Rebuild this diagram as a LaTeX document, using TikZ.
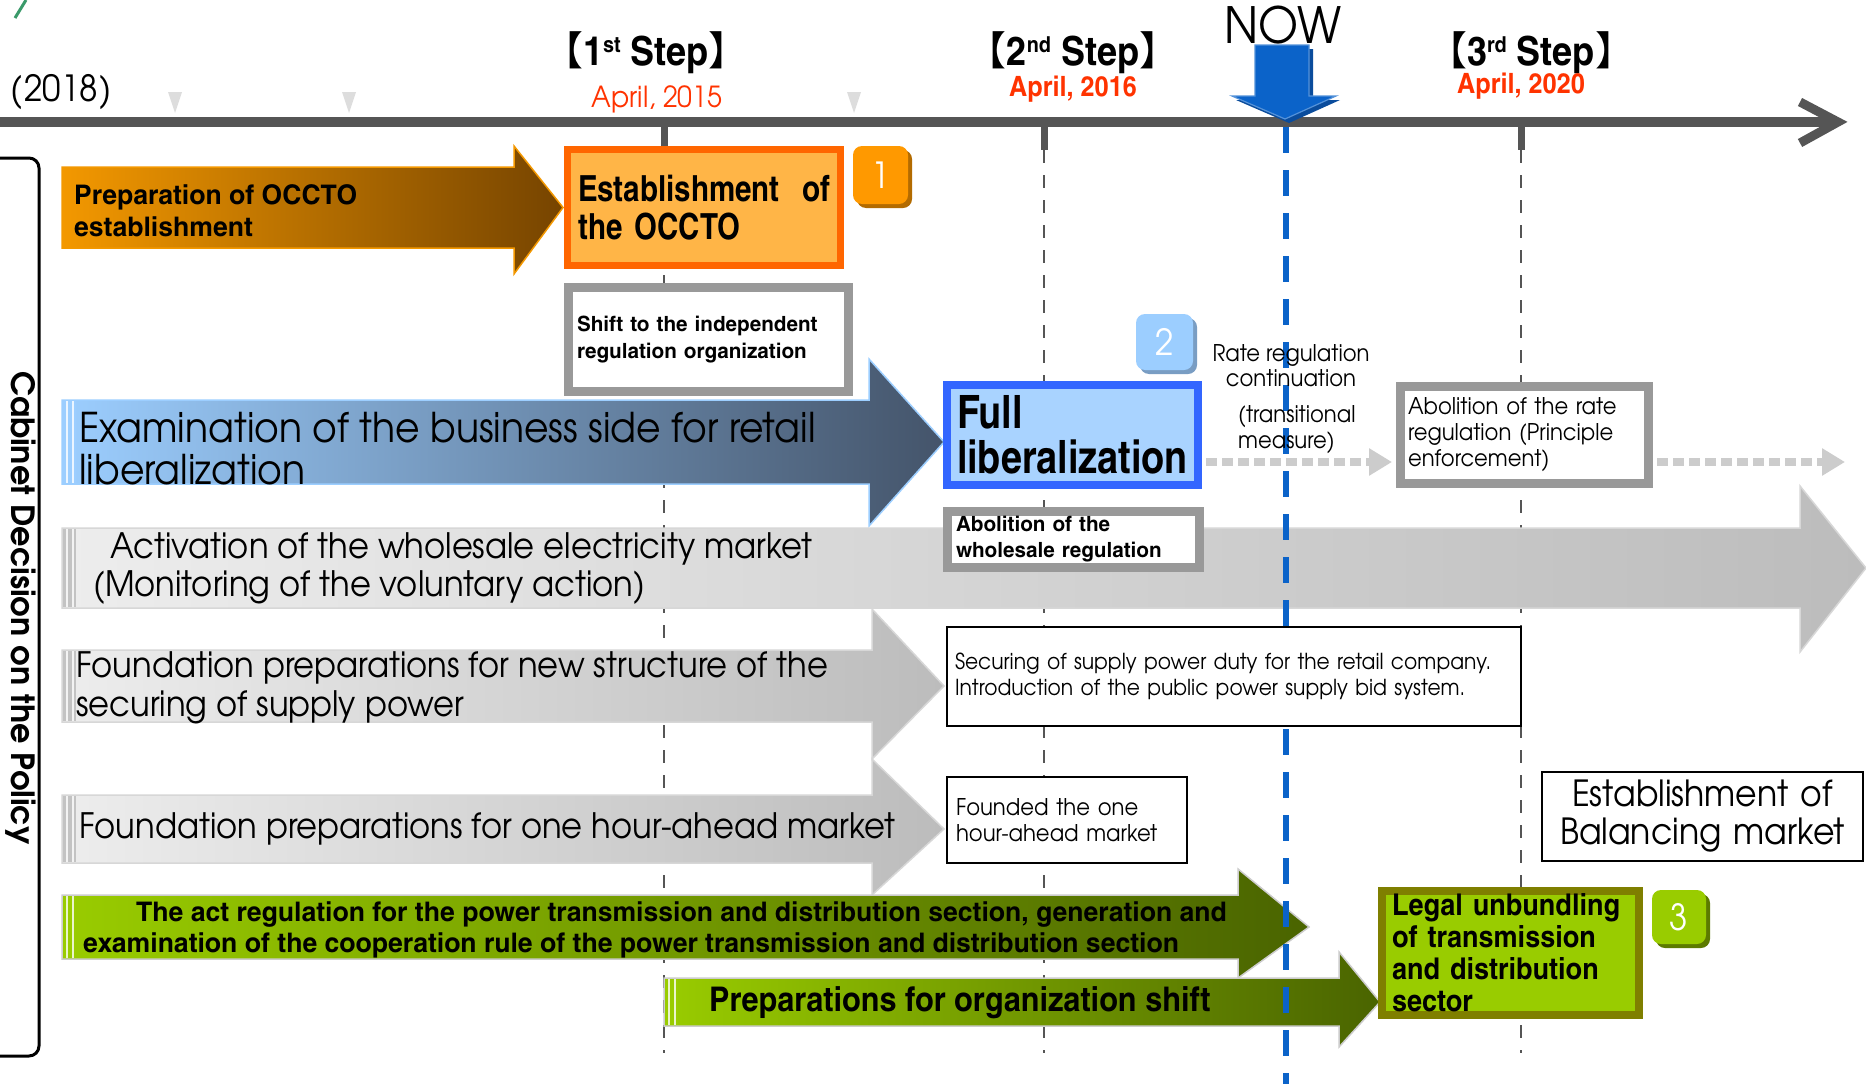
\documentclass[tikz,border=0pt]{standalone}
\usepackage{fontspec}
\usetikzlibrary{arrows.meta,calc,shadows}
\newfontfamily\gth{texgyreadventor-regular.otf}[FakeStretch=0.92]
\newfontfamily\gthb{texgyreadventor-bold.otf}[FakeStretch=1.0]
\newfontfamily\cnb{texgyreheroscn-bold.otf}
\newfontfamily\cnbm{texgyreheroscn-bold.otf}[FakeStretch=1.1]
\newfontfamily\cnbs{texgyreheroscn-bold.otf}[FakeStretch=1.2]
\newfontfamily\cjk{Noto Sans CJK JP}
\newcommand\fsz[2]{\fontsize{#1pt}{#2pt}\selectfont}
\definecolor{tl}{HTML}{555555}
\definecolor{aprred}{HTML}{FF3300}
\definecolor{nowblue}{HTML}{0B63C9}
\definecolor{nowdark}{HTML}{0A4C9C}
\definecolor{orA}{HTML}{F39800}
\definecolor{orB}{HTML}{764400}
\definecolor{occfill}{HTML}{FFB547}
\definecolor{occdraw}{HTML}{FF6600}
\definecolor{blA}{HTML}{9CCEFF}
\definecolor{blB}{HTML}{44546A}
\definecolor{flfill}{HTML}{A9D3FF}
\definecolor{fldraw}{HTML}{3366FF}
\definecolor{grA}{HTML}{EDEDED}
\definecolor{grB}{HTML}{BCBCBC}
\definecolor{boxgray}{HTML}{999999}
\definecolor{gnA}{HTML}{99CC00}
\definecolor{gnB}{HTML}{4A6400}
\definecolor{olive3}{HTML}{7F7F00}
\definecolor{dotgray}{HTML}{CCCCCC}
\definecolor{tickgray}{HTML}{DDDDDD}
\definecolor{badgeor}{HTML}{FF9900}
\definecolor{badgeorsh}{HTML}{B36B00}
\newcommand\fatarrow[8]{%
  \path[#1] (#2,#5) -- (#3,#5) -- (#3,#7) -- (#4,{(#5+#6)/2}) -- (#3,#8) -- (#3,#6) -- (#2,#6) -- cycle;
}
% left band with two thin light lines: colour, xl, yt, yb
\newcommand\stripes[4]{%
  \fill[#1] (#2+1,#3+1) rectangle (#2+14,#4-1);
  \draw[white, opacity=0.8, line width=1.5] (#2+5,#3+1) -- (#2+5,#4-1) (#2+11,#3+1) -- (#2+11,#4-1);
}
\tikzset{
  txt/.style={inner sep=0pt, align=left, anchor=west},
  wbox/.style={draw=boxgray, fill=white, line width=9pt, inner ysep=0pt, align=left},
  kbox/.style={draw=black, fill=white, line width=2.5pt, inner ysep=0pt, align=left},
  badge/.style={rounded corners=9pt, text=white, font=\gth\fsz{36}{36}, inner sep=0pt},
  dotarrow/.style={dotgray, line width=8pt, dash pattern=on 11pt off 5pt, -{Triangle[length=23pt,width=26pt]}},
  steph/.style={inner sep=0pt, font=\cnbm\fsz{40}{40}},
}
\begin{document}
\begin{tikzpicture}[x=1pt,y=-1pt]
\useasboundingbox (0,0) rectangle (1866,1084);
\fill[white] (0,0) rectangle (1866,1084);

% small fragment top-left
\draw[color={rgb,255:red,58;green,154;blue,106}, line width=3pt] (15,18) -- (26,0);

% dashed step lines
\foreach \xx in {664,1044,1521}{
  \draw[tl, line width=2pt, dash pattern=on 13pt off 12pt] (\xx,150) -- (\xx,1053);
}

% timeline
\draw[tl, line width=10pt] (0,122) -- (1836,122);
\draw[tl, line width=9pt, miter limit=10] (1800,102) -- (1838,122) -- (1800,143);
\foreach \xx in {664,1044,1521}{
  \draw[tl, line width=7pt] (\xx,122) -- (\xx,150);
}
\foreach \xx in {175,349,854}{
  \fill[tickgray] (\xx-7,92) -- (\xx+7,92) -- (\xx,113) -- cycle;
}

% headings
\node[txt, font=\gth\fsz{36}{36}] (y2018) at (10,92) {(\hspace{2pt}2018\hspace{2pt})};
\node[steph] (s1) at (646,53) {{\cjk 【}1\raisebox{13pt}{\fsz{22}{22}st} Step{\cjk 】}};
\node[steph] (s2) at (1073,53) {{\cjk 【}2\raisebox{13pt}{\fsz{22}{22}nd} Step{\cjk 】}};
\node[steph] (s3) at (1531,53) {{\cjk 【}3\raisebox{13pt}{\fsz{22}{22}rd} Step{\cjk 】}};
\node[inner sep=0pt, text=aprred, font=\gth\fsz{29}{29}] (a1) at (657,99) {April, 2015};
\node[inner sep=0pt, text=aprred, font=\cnbm\fsz{28}{28}] (a2) at (1073,89) {April, 2016};
\node[inner sep=0pt, text=aprred, font=\cnbm\fsz{28}{28}] (a3) at (1521,86) {April, 2020};
\node[inner sep=0pt, font=\gth\fsz{50}{50}] (now) at (1283,25) {NOW};

% NOW arrow
\path[fill=nowdark] (1259,49) -- (1313,49) -- (1313,100) -- (1340,100) -- (1289,123) -- (1236,100) -- (1259,100) -- cycle;
\path[fill=nowblue, draw=nowblue!70!white, line width=1.2pt] (1255,45) -- (1309,45) -- (1309,96) -- (1336,96) -- (1285,119) -- (1232,96) -- (1255,96) -- cycle;

% left bracket
\draw[black, line width=3pt, rounded corners=10pt] (0,158) -- (39,158) -- (39,1056) -- (0,1056);
\node[rotate=-90, inner sep=0pt, font=\gthb\fsz{32}{32}] (cab) at (21,608) {Cabinet Decision on the Policy};

% arrows
\fatarrow{draw=orA, line width=1.5pt, left color=orA, right color=orB}{62}{514}{563}{167}{248}{146}{274}
\node[txt, font=\cnbs\fsz{27}{32}] (prep) at (74,211) {Preparation of OCCTO\\establishment};

\fatarrow{draw=blA, line width=1.5pt, left color=blA, right color=blB}{62}{869}{944}{400}{484}{359}{526}
\stripes{blA}{62}{400}{484}
\node[txt, font=\gth\fsz{41}{42}] (exam) at (79,449) {Examination of the business side for retail\\liberalization};

\fatarrow{draw=grA!80!gray, line width=1.5pt, left color=grA, right color=grB}{62}{1800}{1866}{528}{608}{486}{652}
\stripes{grB!90}{62}{528}{608}
\node[txt, font=\gth\fsz{35}{38}] (act) at (93,569) {\hspace*{17pt}Activation of the wholesale electricity market\\(Monitoring of the voluntary action)};

\fatarrow{draw=grA!80!gray, line width=1.5pt, left color=grA, right color=grB}{62}{872}{944}{650}{722}{609}{759}
\stripes{grB!90}{62}{650}{722}
\node[txt, font=\gth\fsz{35}{39}] (fnew) at (76,688) {Foundation preparations for new structure of the\\securing of supply power};

\fatarrow{draw=grA!80!gray, line width=1.5pt, left color=grA, right color=grB}{62}{872}{944}{795}{863}{759}{895}
\stripes{grB!90}{62}{795}{863}
\node[txt, font=\gth\fsz{35}{39}] (fhour) at (79,829) {Foundation preparations for one hour-ahead market};

\fatarrow{draw=grA!70!gray, line width=1.5pt, left color=gnA, right color=gnB}{62}{1238}{1309}{895}{959}{869}{978}
\stripes{gnA}{62}{895}{959}
\node[txt, font=\cnbs\fsz{27}{31}] (act2) at (83,930) {\hspace*{53pt}The act regulation for the power transmission and distribution section, generation and\\examination of the cooperation rule of the power transmission and distribution section};

\fatarrow{draw=grA!70!gray, line width=1.5pt, left color=gnA, right color=gnB}{664}{1339}{1380}{978}{1026}{952}{1047}
\stripes{gnA}{664}{978}{1026}
\node[txt, font=\cnbm\fsz{34}{34}] (porg) at (709,1003) {Preparations for organization shift};

% NOW dashed line
\draw[nowblue, line width=5.5pt, dash pattern=on 26pt off 17pt] (1286,127) -- (1286,1084);

% boxes
\node[draw=occdraw, fill=occfill, line width=7pt, minimum width=273pt, minimum height=116pt, inner xsep=10.5pt, inner ysep=0pt, text width=252pt, align=left, font=\cnb\fsz{36}{38}] (occto) at (704,207.5) {Establishment\hfill of\\the OCCTO};
\node[badge, fill=badgeor, minimum width=55pt, minimum height=58pt, drop shadow={shadow xshift=4pt, shadow yshift=-4pt, fill=badgeorsh, opacity=1}] (b1) at (880.5,175) {1};

\node[wbox, minimum width=280pt, minimum height=104pt, inner xsep=8.5pt, text width=263pt, font=\cnbs\fsz{21}{27}] (shift) at (708.5,339.5) {Shift to the independent\\regulation organization};

\node[draw=fldraw, fill=flfill, line width=8pt, minimum width=251pt, minimum height=100pt, inner xsep=10pt, inner ysep=0pt, text width=231pt, align=left, font=\cnb\fsz{46}{45}] (full) at (1072.5,435) {Full\\liberalization};
\node[badge, fill=blA, minimum width=57pt, minimum height=56pt, drop shadow={shadow xshift=4pt, shadow yshift=-4pt, fill=blA!60!blB, opacity=1}] (b2) at (1164.5,342) {2};

\node[inner sep=0pt, align=center, font=\gth\fsz{23}{25}] (rate) at (1291,365.5) {Rate regulation\\continuation};
\node[txt, font=\gth\fsz{23}{26}] (trans) at (1238,430) {(transitional\\measure)};

\node[wbox, minimum width=248pt, minimum height=97pt, inner xsep=7.5pt, text width=233pt, font=\gth\fsz{23}{26}] (abrate) at (1524.5,435) {Abolition of the rate\\regulation (Principle\\enforcement)};
\coordinate (dotend) at (1845,462);
\draw[dotarrow] ($(full.east)+(4,27)$) -- ($(abrate.west)+(-4,27)$);
\draw[dotarrow] ($(abrate.east)+(4,27)$) -- (dotend);

\node[wbox, minimum width=252pt, minimum height=56pt, inner xsep=8.5pt, text width=235pt, font=\cnbs\fsz{21}{26}] (abwhole) at (1073.5,539.5) {Abolition of the\\wholesale regulation};

\node[kbox, minimum width=574pt, minimum height=99pt, inner xsep=8pt, text width=558pt, font=\gth\fsz{22}{26}] (secure) at (1234,676.5) {Securing of supply power duty for the retail company.\\Introduction of the public power supply bid system.};

\node[kbox, minimum width=240pt, minimum height=86pt, inner xsep=9pt, text width=222pt, font=\gth\fsz{23}{26}] (founded) at (1067,820) {Founded the one\\hour-ahead market};

\node[kbox, minimum width=321pt, minimum height=89pt, inner xsep=5pt, text width=311pt, align=center, font=\gth\fsz{36}{38}] (bal) at (1702.5,816.5) {Establishment of\\Balancing market};

\node[draw=olive3, fill=gnA, line width=8pt, minimum width=257pt, minimum height=124pt, inner xsep=10pt, inner ysep=0pt, text width=237pt, align=left, font=\cnbm\fsz{30}{32}] (legal) at (1510.5,953) {Legal unbundling\\of transmission\\and distribution\\sector};
\node[badge, fill=gnA, minimum width=54pt, minimum height=54pt, drop shadow={shadow xshift=4pt, shadow yshift=-4pt, fill=gnA!60!black, opacity=1}] (b3) at (1679,917) {3};
\end{tikzpicture}
\end{document}
